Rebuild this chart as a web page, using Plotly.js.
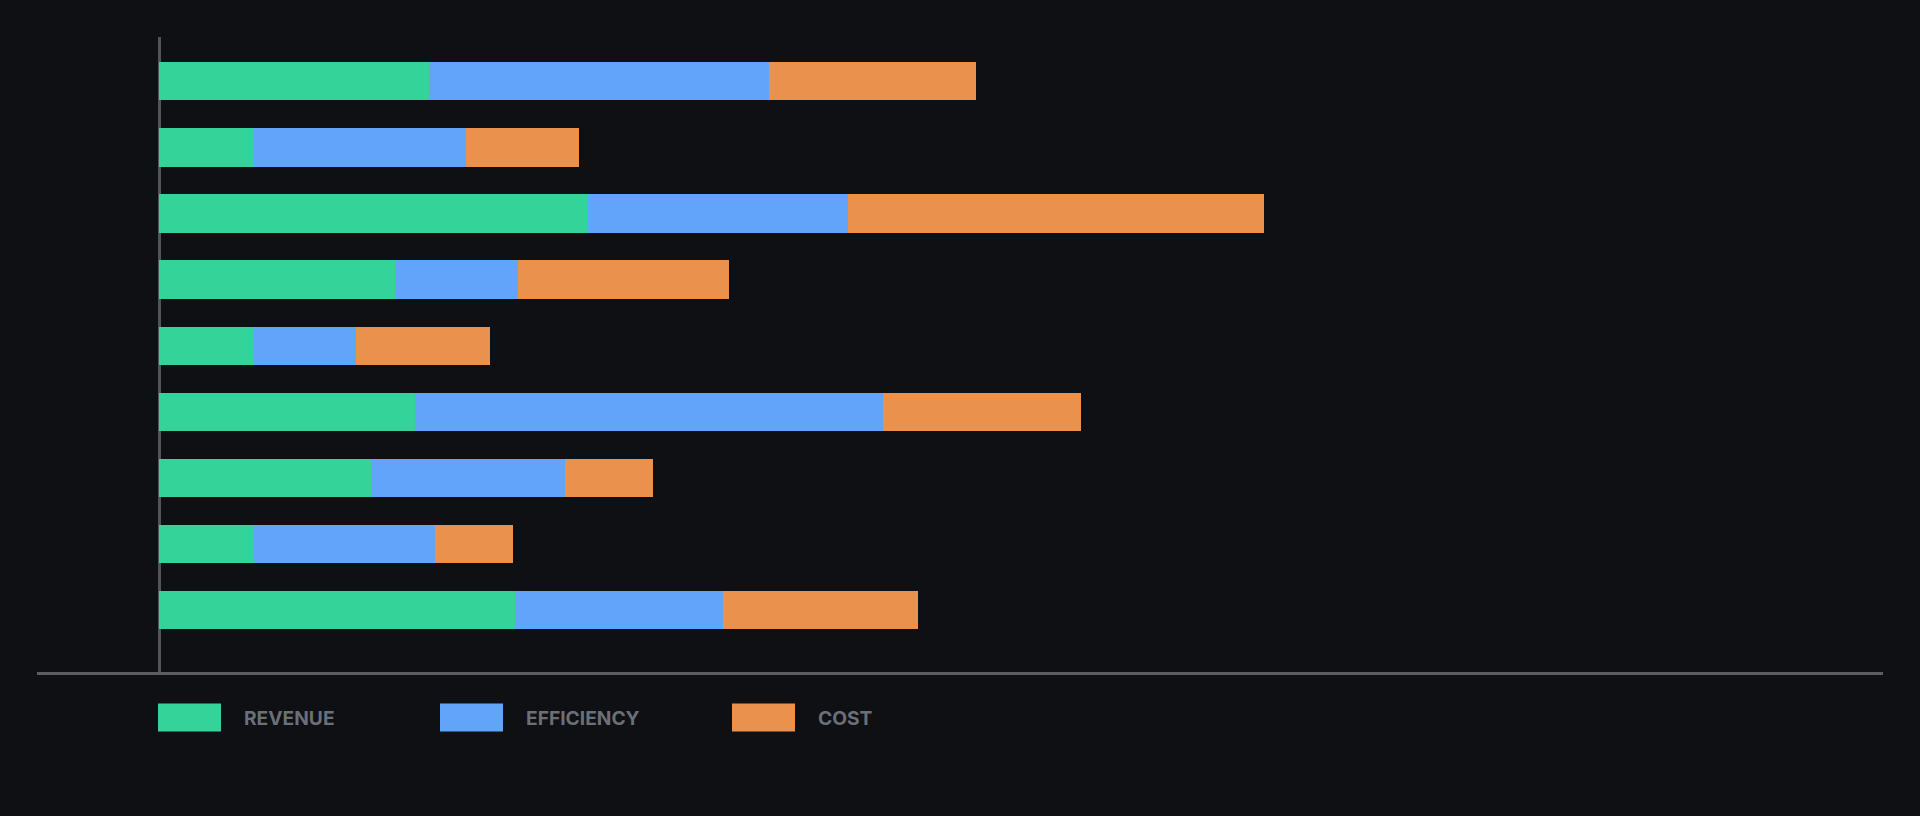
<!DOCTYPE html>
<html>
<head>
<meta charset="utf-8">
<script src="https://cdn.plot.ly/plotly-3.0.1.min.js"></script>
<style>
  html, body { margin: 0; padding: 0; background: #0e1014; }
  #chart { width: 1920px; height: 816px; }
</style>
</head>
<body>
<div id="chart"></div>
<script>
// rows, top to bottom
var categories = ['R1', 'R2', 'R3', 'R4', 'R5', 'R6', 'R7', 'R8', 'R9'];
var revenue    = [28.5, 10.0, 45.2, 24.9, 10.0, 27.0, 22.3, 10.0, 37.5];
var efficiency = [35.8, 22.3, 27.4, 12.9, 10.8, 49.3, 20.5, 19.1, 22.0];
var cost       = [21.8, 12.0, 43.9, 22.3, 14.1, 20.9,  9.3,  8.2, 20.5];
var seriesNames = ['REVENUE', 'EFFICIENCY', 'COST'];

var colors = ['#34d399', '#60a5fa', '#ea924c'];

// plot box in pixels (1920x816 page)
var W = 1920, H = 816;
var ml = 37, mr = 37, mt = 37, mb = 143.5;
var pw = W - ml - mr, ph = H - mt - mb;

function px2x(px) { return (px - ml) / pw; }
function px2y(py) { return (H - mb - py) / ph; }

function bar(vals, i) {
  return {
    type: 'bar',
    orientation: 'h',
    y: categories,
    x: vals,
    name: seriesNames[i],
    marker: {color: colors[i], line: {width: 0}},
    showlegend: false,
    hoverinfo: 'skip'
  };
}

var data = [bar(revenue, 0), bar(efficiency, 1), bar(cost, 2)];

// hand-made legend: big swatches under the axis
var legendLeft = [158, 440, 732];
var shapes = [];
var annotations = [];
for (var i = 0; i < seriesNames.length; i++) {
  shapes.push({
    type: 'rect', xref: 'paper', yref: 'paper',
    x0: px2x(legendLeft[i]), x1: px2x(legendLeft[i] + 63),
    y0: px2y(704), y1: px2y(732),
    fillcolor: colors[i], line: {width: 0}
  });
  annotations.push({
    xref: 'paper', yref: 'paper',
    x: px2x(legendLeft[i] + 86), y: px2y(719),
    xanchor: 'left', yanchor: 'middle',
    borderpad: 0, borderwidth: 0,
    text: seriesNames[i], showarrow: false,
    font: {family: 'Inter, "Noto Sans", sans-serif', size: 19.2, weight: 700, color: '#6b6f77'}
  });
}

var pxPerUnit = 9.48;
var zeroPx = 159.3 - ml;

var layout = {
  width: W, height: H,
  paper_bgcolor: '#0e1014',
  plot_bgcolor: '#0e1014',
  margin: {l: ml, r: mr, t: mt, b: mb, pad: 0},
  barmode: 'stack',
  bargap: 0.421,
  xaxis: {
    range: [-zeroPx / pxPerUnit, (pw - zeroPx) / pxPerUnit],
    showgrid: false,
    showticklabels: false,
    ticks: '',
    zeroline: true,
    zerolinecolor: '#50535a',
    zerolinewidth: 3,
    showline: true,
    linecolor: '#5a5d63',
    linewidth: 3,
    fixedrange: true
  },
  yaxis: {
    type: 'category',
    range: [8.937, -0.67],
    showgrid: false,
    showticklabels: false,
    ticks: '',
    zeroline: false,
    showline: false,
    fixedrange: true
  },
  shapes: shapes,
  annotations: annotations
};

Plotly.newPlot('chart', data, layout, {displayModeBar: false, staticPlot: true});
</script>
</body>
</html>
